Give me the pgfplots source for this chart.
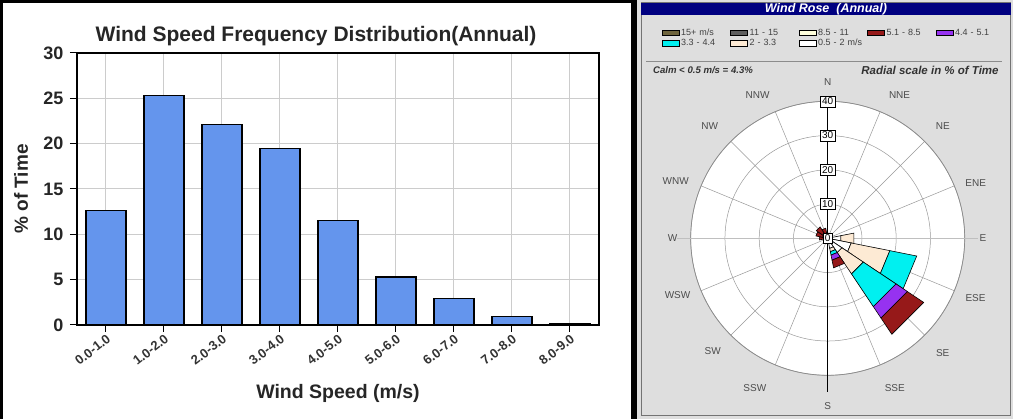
\documentclass[border=0pt]{standalone}
\usepackage{fontspec}
\setmainfont{Liberation Sans}
\usepackage{pgfplots}
\pgfplotsset{compat=1.18}
\usepgfplotslibrary{polar}
\definecolor{barblue}{RGB}{100,149,237}
\definecolor{panelgray}{RGB}{222,222,222}
\definecolor{navybar}{RGB}{0,0,128}
\definecolor{rosered}{RGB}{150,25,25}
\definecolor{rosepurple}{RGB}{150,50,240}
\definecolor{rosecyan}{RGB}{0,240,240}
\definecolor{rosepeach}{RGB}{253,234,212}
\definecolor{roseolive}{RGB}{110,100,60}
\definecolor{rosedark}{RGB}{95,95,95}
\definecolor{roseyellow}{RGB}{255,255,220}
% one annular sector: angle1, angle2, r1, r2, colour
\newcommand\sect[5]{\addplot[fill=#5,draw=black,line width=0.6pt] coordinates {(#1,#3) (#2,#3) (#2,#4) (#1,#4)} -- cycle;}
\newcommand\cpl[3]{\node[font=\fontsize{10}{11}\selectfont, text=black!70] at (axis cs:#1,#2) {#3};}
\newcommand\rbox[2]{\node[draw=black, fill=white, inner sep=2pt, font=\fontsize{10}{11}\selectfont] at (axis cs:#1,#2) {#2};}
\begin{document}
\begin{tikzpicture}[x=1pt,y=1pt]
\path[use as bounding box] (0,0) rectangle (1013,419);
% left panel frame
\fill[white] (0,0) rectangle (633,419);
\draw[black,line width=3pt] (1.5,0) -- (1.5,417.5) -- (633,417.5);
\fill[black] (631,0) rectangle (637,419);
% right panel
\fill[panelgray] (637,0) rectangle (1013,419);
\draw[black!55,line width=1pt] (641,3) rectangle (1010.5,416);
\fill[navybar] (641,404) rectangle (1010.5,416);
\node[white,font=\bfseries\itshape\fontsize{12.5}{13}\selectfont] at (826,410) {Wind Rose\ \ (Annual)};
\draw[black!45,line width=1pt] (646,357) -- (1002,357);
\node[font=\bfseries\itshape\fontsize{9.6}{11}\selectfont,text=black!80] at (703,349) {Calm < 0.5 m/s = 4.3\%};
\node[font=\bfseries\itshape\fontsize{11.5}{13}\selectfont,text=black!80] at (930,349) {Radial scale in \% of Time};

% ---------------- bar chart ----------------
\begin{axis}[
  at={(77pt,94pt)}, anchor=south west,
  scale only axis, width=522pt, height=272pt,
  xmin=-0.5, xmax=8.5, ymin=0, ymax=30,
  ytick={0,5,...,30},
  xtick={0,...,8},
  xticklabels={0.0-1.0,1.0-2.0,2.0-3.0,3.0-4.0,4.0-5.0,5.0-6.0,6.0-7.0,7.0-8.0,8.0-9.0},
  xticklabel style={rotate=38, anchor=north east, font=\bfseries\fontsize{13}{14}\selectfont, text=black!80, inner sep=1pt},
  yticklabel style={font=\bfseries\fontsize{18}{20}\selectfont, text=black!85, xshift=-3pt},
  /pgf/number format/assume math mode=true,
  tick align=outside, tick pos=left, major tick length=7pt,
  tick style={black, line width=1pt},
  grid=major, grid style={black!20, line width=1pt},
  axis line style={black, line width=1.3pt},
  ybar, bar width=40pt,
  title={Wind Speed Frequency Distribution(Annual)},
  title style={at={(axis description cs:0.458,1.04)}, anchor=center, font=\bfseries\fontsize{21}{24}\selectfont, text=black!85},
  xlabel={Wind Speed (m/s)},
  xlabel style={at={(axis description cs:0.5,-0.25)}, anchor=center, font=\bfseries\fontsize{19.5}{22}\selectfont, text=black!85},
  ylabel={\% of Time},
  ylabel style={at={(axis description cs:-0.107,0.5)}, anchor=center, font=\bfseries\fontsize{19}{22}\selectfont, text=black!85},
]
\addplot[fill=barblue, draw=black, line width=1.3pt] coordinates {
  (0,12.6) (1,25.3) (2,22.1) (3,19.5) (4,11.5) (5,5.3) (6,2.9) (7,0.9) (8,0.2)};
\end{axis}

% ---------------- wind rose ----------------
\begin{polaraxis}[
  at={(827.7pt,180.7pt)}, anchor=center,
  scale only axis, width=274pt, height=274pt,
  clip=false,
  ymin=0, ymax=40,
  xtick={0,22.5,...,337.5},
  ytick={10,20,30,40},
  xticklabel=\empty, yticklabel=\empty,
  major tick length=0pt,
  grid=major, grid style={black!40, line width=0.5pt},
  axis line style={black!45, line width=0.7pt},
  axis background/.style={fill=white},
  legend columns=5,
  legend cell align=left,
  legend style={at={(0.519,1.231)}, anchor=center, draw=none, fill=none,
    font=\fontsize{9}{10}\selectfont, text=black!75,
    /tikz/every even column/.append style={column sep=0pt, text width=47pt}, row sep=-1.5pt},
]
\addlegendimage{area legend, fill=roseolive, draw=black}\addlegendentry{15+ m/s}
\addlegendimage{area legend, fill=rosedark, draw=black}\addlegendentry{11 - 15}
\addlegendimage{area legend, fill=roseyellow, draw=black}\addlegendentry{8.5 - 11}
\addlegendimage{area legend, fill=rosered, draw=black}\addlegendentry{5.1 - 8.5}
\addlegendimage{area legend, fill=rosepurple, draw=black}\addlegendentry{4.4 - 5.1}
\addlegendimage{area legend, fill=rosecyan, draw=black}\addlegendentry{3.3 - 4.4}
\addlegendimage{area legend, fill=rosepeach, draw=black}\addlegendentry{2 - 3.3}
\addlegendimage{area legend, fill=white, draw=black}\addlegendentry{0.5 - 2 m/s}
% horizontal E-W guide line
\draw[black!25, line width=0.6pt] (axis cs:180,44) -- (axis cs:0,44);
% E
\sect{-11.25}{11.25}{0}{3.9}{white}
\sect{-11.25}{11.25}{3.9}{7.8}{rosepeach}
% ESE
\sect{-33.75}{-11.25}{0}{7}{white}
\sect{-33.75}{-11.25}{7}{18.5}{rosepeach}
\sect{-33.75}{-11.25}{18.5}{26.5}{rosecyan}
% SE
\sect{-56.25}{-33.75}{0}{5}{white}
\sect{-56.25}{-33.75}{5}{12.5}{rosepeach}
\sect{-56.25}{-33.75}{12.5}{24}{rosecyan}
\sect{-56.25}{-33.75}{24}{28}{rosepurple}
\sect{-56.25}{-33.75}{28}{33.7}{rosered}
% SSE
\sect{-78.75}{-56.25}{0}{3}{white}
\sect{-78.75}{-56.25}{3}{4}{rosepeach}
\sect{-78.75}{-56.25}{4}{5}{rosecyan}
\sect{-78.75}{-56.25}{5}{6.5}{rosepurple}
\sect{-78.75}{-56.25}{6.5}{8.8}{rosered}
% S, SSW, SW, WSW
\sect{-101.25}{-78.75}{0}{1.5}{white}
\sect{-123.75}{-101.25}{0}{1}{white}
\sect{-146.25}{-123.75}{0}{1}{white}
\sect{-168.75}{-146.25}{0}{1}{white}
% W
\sect{168.75}{191.25}{0}{1}{white}
\sect{168.75}{191.25}{1}{2.5}{rosered}
% WNW
\sect{146.25}{168.75}{0}{1.5}{white}
\sect{146.25}{168.75}{1.5}{3.5}{rosered}
% NW
\sect{123.75}{146.25}{0}{1.5}{white}
\sect{123.75}{146.25}{1.5}{4}{rosered}
% NNW
\sect{101.25}{123.75}{0}{1}{white}
\sect{101.25}{123.75}{1}{3}{rosered}
% N, NNE, NE, ENE
\sect{78.75}{101.25}{0}{1.5}{white}
\sect{56.25}{78.75}{0}{1}{white}
\sect{33.75}{56.25}{0}{1}{white}
\sect{11.25}{33.75}{0}{1}{white}
% N-S axis line and radial scale
\draw[black, line width=1pt] (axis cs:90,40) -- (axis cs:270,45);
\rbox{90}{10}
\rbox{90}{20}
\rbox{90}{30}
\rbox{90}{40}
\node[draw=black, fill=white, inner sep=1.5pt, font=\fontsize{10}{11}\selectfont] at (axis cs:0,0) {0};
% compass labels
\cpl{90}{45.5}{N}
\cpl{63.3}{46.7}{NNE}
\cpl{44.2}{46.9}{NE}
\cpl{20.4}{46.1}{ENE}
\cpl{0}{45.3}{E}
\cpl{-22.1}{46.6}{ESE}
\cpl{-45}{47.5}{SE}
\cpl{-65.9}{48}{SSE}
\cpl{-90}{49}{S}
\cpl{-115.9}{48.7}{SSW}
\cpl{-135.5}{47.1}{SW}
\cpl{-159.2}{46.9}{WSW}
\cpl{180}{45.3}{W}
\cpl{159.4}{47.4}{WNW}
\cpl{136.5}{47.5}{NW}
\cpl{116.1}{46.5}{NNW}
\end{polaraxis}
\end{tikzpicture}
\end{document}
